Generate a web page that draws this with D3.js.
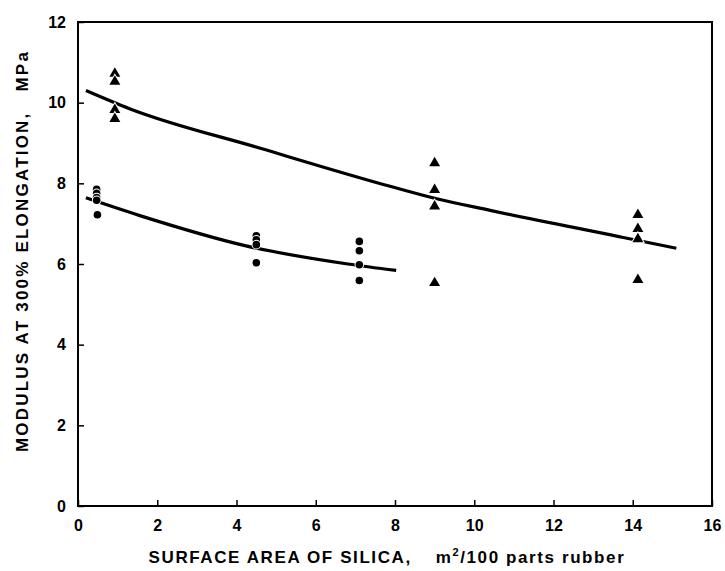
<!DOCTYPE html>
<html lang="en">
<head>
<meta charset="UTF-8">
<title>Modulus vs surface area</title>
<script src="https://cdn.jsdelivr.net/npm/d3@7"></script>
<style>
  body { margin: 0; background: #fff; }
  text { font-family: "Liberation Sans", Arial, sans-serif; fill: #000; }
</style>
</head>
<body>
<svg width="725" height="571"></svg>
<script>
// measured points, triangles (upper set) and circles (lower set)
var triX = [0.93, 0.93, 0.93, 0.93, 9.0, 9.0, 9.0, 9.0, 14.13, 14.13, 14.13, 14.13];
var triY = [10.72, 10.52, 9.82, 9.6, 8.5, 7.84, 7.43, 5.53, 7.22, 6.87, 6.62, 5.61];
var circX = [0.47, 0.47, 0.47, 0.47, 0.49, 4.5, 4.5, 4.5, 4.5, 7.1, 7.1, 7.1, 7.1];
var circY = [7.85, 7.75, 7.65, 7.58, 7.22, 6.7, 6.6, 6.48, 6.03, 6.56, 6.33, 5.98, 5.59];

// fitted curves
var upperX = [0.2, 1.3, 4.6, 7.9, 9.0, 10.4, 13.65, 15.1];
var upperY = [10.3, 9.85, 8.87, 7.92, 7.63, 7.33, 6.68, 6.39];
var lowerX = [0.2, 1.56, 4.24, 6.81, 8.03];
var lowerY = [7.64, 7.2, 6.45, 6.0, 5.84];

var xTicks = [0, 2, 4, 6, 8, 10, 12, 14, 16];
var yTicks = [0, 2, 4, 6, 8, 10, 12];

var margin = {top: 22, right: 13, bottom: 65, left: 78};
var svg = d3.select('svg');
var width = +svg.attr('width') - margin.left - margin.right;
var height = +svg.attr('height') - margin.top - margin.bottom;
var g = svg.append('g').attr('transform', 'translate(' + margin.left + ',' + margin.top + ')');

var x = d3.scaleLinear().domain([0, 16]).range([0, width]);
var y = d3.scaleLinear().domain([0, 12]).range([height, 0]);

// frame
g.append('rect')
  .attr('width', width).attr('height', height)
  .attr('fill', 'none').attr('stroke', '#000').attr('stroke-width', 2);

// axes with inward ticks
var xAxis = g.append('g').attr('transform', 'translate(0,' + height + ')')
  .call(d3.axisBottom(x).tickValues(xTicks).tickSize(-6).tickPadding(14).tickFormat(d3.format('d')));
var yAxis = g.append('g')
  .call(d3.axisLeft(y).tickValues(yTicks).tickSize(-6).tickPadding(12).tickFormat(d3.format('d')));
[xAxis, yAxis].forEach(function (a) {
  a.select('.domain').remove();
  a.selectAll('line').attr('stroke', '#000').attr('stroke-width', 1.5);
  a.selectAll('text').style('font-size', '16px').style('font-weight', 'bold');
});

// curves
var line = d3.line()
  .x(function (d) { return x(d[0]); })
  .y(function (d) { return y(d[1]); })
  .curve(d3.curveMonotoneX);

[[upperX, upperY], [lowerX, lowerY]].forEach(function (s) {
  g.append('path')
    .datum(d3.zip(s[0], s[1]))
    .attr('d', line)
    .attr('fill', 'none')
    .attr('stroke', '#000')
    .attr('stroke-width', 3.2);
});

// markers with a white halo so the curves break around them
var tri = d3.symbol().type(d3.symbolTriangle).size(52);
g.selectAll('.tri')
  .data(d3.zip(triX, triY))
  .enter().append('path')
  .attr('class', 'tri')
  .attr('d', tri)
  .attr('transform', function (d) { return 'translate(' + x(d[0]) + ',' + y(d[1]) + ')'; })
  .attr('fill', '#000').attr('stroke', '#fff').attr('stroke-width', 2).attr('paint-order', 'stroke');

g.selectAll('.circ')
  .data(d3.zip(circX, circY))
  .enter().append('circle')
  .attr('class', 'circ')
  .attr('cx', function (d) { return x(d[0]); })
  .attr('cy', function (d) { return y(d[1]); })
  .attr('r', 3.8)
  .attr('fill', '#000').attr('stroke', '#fff').attr('stroke-width', 2).attr('paint-order', 'stroke');

// axis titles
var xt = svg.append('text')
  .attr('x', 387).attr('y', 563)
  .attr('text-anchor', 'middle')
  .style('font-size', '17px').style('font-weight', 'bold')
  .style('letter-spacing', '1.6px');
xt.append('tspan').text('SURFACE AREA OF SILICA,');
xt.append('tspan').attr('dx', 24).text('m');
xt.append('tspan').attr('dy', -7).style('font-size', '11px').text('2');
xt.append('tspan').attr('dy', 7).text('/100 parts rubber');

var yt = svg.append('text')
  .attr('transform', 'translate(28,' + 251 + ') rotate(-90)')
  .attr('text-anchor', 'middle')
  .style('font-size', '17px').style('font-weight', 'bold')
  .style('letter-spacing', '2.2px');
yt.append('tspan').text('MODULUS AT 300% ELONGATION,');
yt.append('tspan').attr('dx', 20).text('MPa');
</script>
</body>
</html>
